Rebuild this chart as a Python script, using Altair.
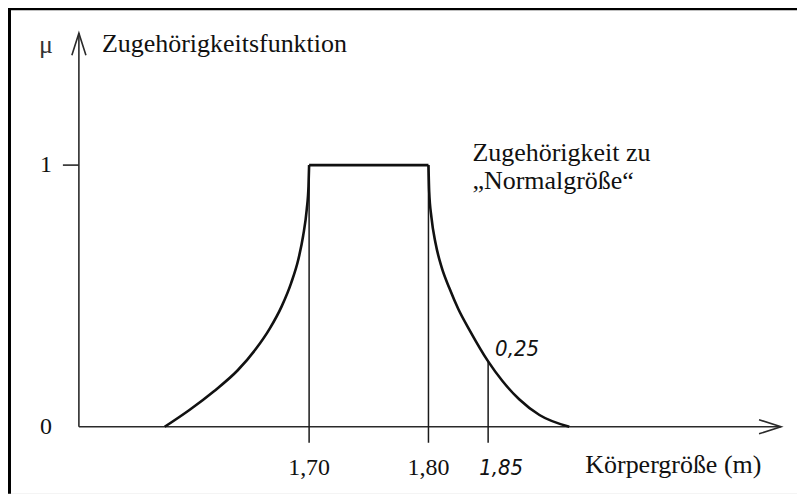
import altair as alt
import pandas as pd

# ---- data ----
left_x = [1.579, 1.600, 1.620, 1.640, 1.655, 1.667, 1.677, 1.685, 1.691, 1.695, 1.698, 1.6995, 1.700]
left_mu = [0.0, 0.065, 0.135, 0.215, 0.295, 0.375, 0.46, 0.55, 0.64, 0.73, 0.83, 0.92, 1.0]
plateau_x = [1.700, 1.800]
plateau_mu = [1.0, 1.0]
right_x = [1.800, 1.8006, 1.8025, 1.806, 1.811, 1.8175, 1.825, 1.835, 1.850, 1.862, 1.876, 1.893, 1.918]
right_mu = [1.0, 0.90, 0.80, 0.70, 0.61, 0.53, 0.45, 0.365, 0.25, 0.175, 0.105, 0.045, 0.0]

tick_values = [1.70, 1.80]
tick_labels = ["1,70", "1,80"]
marked_value = [1.85]
marked_label = ["1,85"]
marked_mu = [0.25]
marked_mu_label = ["0,25"]
y_tick_values = [0, 1]
y_tick_labels = ["0", "1"]

# ---- scales / geometry ----
X_DOMAIN = [1.4477, 2.1088]
Y_DOMAIN = [-0.2557, 1.5992]
AXIS_X_MIN = 1.5071
AXIS_X_MAX = 2.0954
AXIS_Y_MAX = 1.504
DROP_BOTTOM = -0.061
W, H = 790, 486

xs = alt.Scale(domain=X_DOMAIN, nice=False, zero=False)
ys = alt.Scale(domain=Y_DOMAIN, nice=False, zero=False)
SERIF = "Liberation Serif"
ITAL = "'Liberation Sans Narrow', 'DejaVu Sans Condensed', 'Liberation Sans', sans-serif"
INK = "#111"

curve_df = pd.concat([
    pd.DataFrame({"x": left_x, "mu": left_mu, "seg": "a"}),
    pd.DataFrame({"x": plateau_x, "mu": plateau_mu, "seg": "b"}),
    pd.DataFrame({"x": right_x, "mu": right_mu, "seg": "c"}),
])
drop_df = pd.DataFrame({
    "x": tick_values + marked_value,
    "top": [1.0, 1.0] + marked_mu,
    "bot": [DROP_BOTTOM] * 3,
})
tick_df = pd.DataFrame({"x": tick_values, "label": tick_labels, "z": 0.0})
mark_df = pd.DataFrame({"x": marked_value, "label": marked_label, "mu": marked_mu,
                        "mlabel": marked_mu_label, "z": 0.0})
ytick_df = pd.DataFrame({"y": y_tick_values, "label": y_tick_labels})

X = lambda f="x": alt.X(f"{f}:Q", scale=xs, axis=None)
Y = lambda f="y": alt.Y(f"{f}:Q", scale=ys, axis=None)

base = alt.Chart(pd.DataFrame({"d": [0]}))

# frame (left and top border of the scanned figure)
frame_left = base.mark_rule(color="#000", strokeWidth=3).encode(
    x=alt.value(1.5), y=alt.value(0), y2=alt.value(H))
frame_top = base.mark_rule(color="#000", strokeWidth=3).encode(
    x=alt.value(0), x2=alt.value(W), y=alt.value(0.5))

axes_df = pd.DataFrame({"x": [AXIS_X_MIN], "x2": [AXIS_X_MAX], "y": [0.0], "y2": [AXIS_Y_MAX]})
x_axis = alt.Chart(axes_df).mark_rule(color="#2a2a2a", strokeWidth=1.6).encode(
    x=X("x"), x2="x2:Q", y=Y("y"))
y_axis = alt.Chart(axes_df).mark_rule(color="#2a2a2a", strokeWidth=1.6).encode(
    x=X("x"), y=Y("y"), y2="y2:Q")
x_arrow = alt.Chart(axes_df).mark_point(
    shape="M -1 -0.32 L 0 0 L -1 0.32", filled=False, size=1936, strokeWidth=1.6,
    color="#2a2a2a", opacity=1).encode(x=X("x2"), y=Y("y"))
y_arrow = alt.Chart(axes_df).mark_point(
    shape="M -0.32 1 L 0 0 L 0.32 1", filled=False, size=1936, strokeWidth=1.6,
    color="#2a2a2a", opacity=1).encode(x=X("x"), y=Y("y2"))

ytick_rule = alt.Chart(pd.DataFrame({"x": [1.4937], "x2": [AXIS_X_MIN], "y": [1.0]})).mark_rule(
    color="#2a2a2a", strokeWidth=1.6).encode(x=X("x"), x2="x2:Q", y=Y("y"))

drops = alt.Chart(drop_df).mark_rule(color="#1a1a1a", strokeWidth=1.5).encode(
    x=X("x"), y=Y("top"), y2="bot:Q")

curve = alt.Chart(curve_df).mark_line(color="#111", strokeWidth=2.6, interpolate="monotone").encode(
    x=X("x"), y=Y("mu"), detail="seg:N")

tick_text = alt.Chart(tick_df).mark_text(
    font=SERIF, fontSize=24, color=INK, baseline="alphabetic", align="center", dy=48
).encode(x=X("x"), y=Y("z"), text="label:N")

mark_text = alt.Chart(mark_df).mark_text(
    font=ITAL, fontStyle="italic", fontSize=22, color=INK, baseline="alphabetic", align="left",
    dx=-9, dy=48).encode(x=X("x"), y=Y("z"), text="label:N")

mu_text = alt.Chart(mark_df).mark_text(
    font=ITAL, fontStyle="italic", fontSize=22, color=INK, baseline="alphabetic", align="left",
    dx=7, dy=-5).encode(x=X("x"), y=Y("mu"), text="mlabel:N")

ytick_text = alt.Chart(ytick_df).mark_text(
    font=SERIF, fontSize=24, color=INK, baseline="middle", align="right"
).encode(x=alt.value(44), y=Y("y"), text="label:N")

annot_df = pd.DataFrame({
    "px": [94, 465, 465, 578],
    "py": [44, 153, 181, 465],
    "t": ["Zugehörigkeitsfunktion", "Zugehörigkeit zu", "„Normalgröße“", "Körpergröße (m)"],
})
annot = alt.Chart(annot_df).mark_text(
    font=SERIF, fontSize=26, color=INK, baseline="alphabetic", align="left"
).encode(x=alt.X("px:Q", scale=None, axis=None), y=alt.Y("py:Q", scale=None, axis=None), text="t:N")

mu_sym = base.mark_text(font=SERIF, fontSize=26, color="#333", align="center", baseline="middle",
                        text="μ").encode(x=alt.value(38), y=alt.value(37))

chart = alt.layer(
    frame_left, frame_top, x_axis, y_axis, x_arrow, y_arrow, ytick_rule, drops, curve,
    tick_text, mark_text, mu_text, ytick_text, annot, mu_sym
).properties(
    width=W, height=H, padding=0, autosize=alt.AutoSizeParams(type="none"),
).configure_view(stroke=None).configure(background="white")

chart.save("out.html", embed_options={"renderer": "svg", "actions": False})
